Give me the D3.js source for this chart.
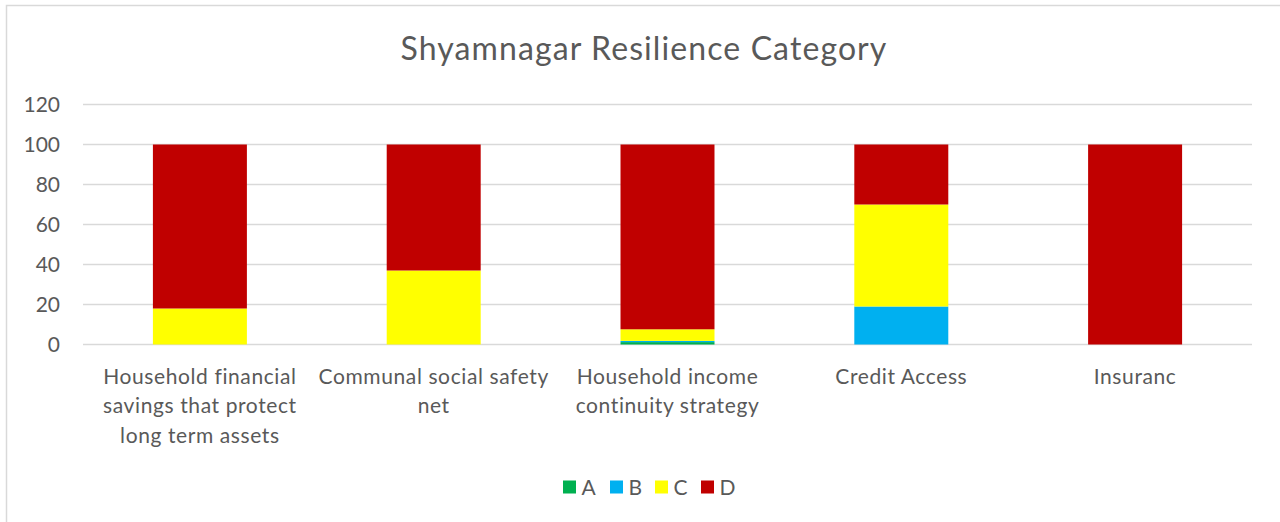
<!DOCTYPE html>
<html><head><meta charset="utf-8">
<script src="https://cdn.jsdelivr.net/npm/d3@7"></script>
<style>body{margin:0;background:#fff;} svg{display:block;}</style>
</head><body>
<svg id="chart" width="1280" height="522"></svg>
<script>
const categories = [
  ["Household financial", "savings that protect", "long term assets"],
  ["Communal social safety", "net"],
  ["Household income", "continuity strategy"],
  ["Credit Access"],
  ["Insuranc"]
];
const seriesNames = ["A", "B", "C", "D"];
const seriesColors = ["#00b050", "#00b0f0", "#ffff00", "#c00000"];
const valuesA = [0, 0, 1.2, 0, 0];
const valuesB = [0, 0, 0.6, 19, 0];
const valuesC = [18, 37, 5.8, 51, 0];
const valuesD = [82, 63, 92.4, 30, 100];
const yTicks = [0, 20, 40, 60, 80, 100, 120];
const title = "Shyamnagar Resilience Category";

(function () {
const font = "Lato, 'Open Sans', sans-serif";
const textColor = "#595959";
const svg = d3.select("#chart");

// chart border
svg.append("rect").attr("x", 6.5).attr("y", 5.5).attr("width", 1290).attr("height", 530)
  .attr("fill", "#fff").attr("stroke", "#d9d9d9").attr("stroke-width", 1.5);

const pLeft = 83, pRight = 1252, pTop = 104.5, pBottom = 344.5;
const keys = categories.map((c, i) => i);
const x = d3.scaleBand().domain(keys).range([pLeft, pRight]).paddingInner(0.598).paddingOuter(0.299);
const y = d3.scaleLinear().domain([0, 120]).range([pBottom, pTop]);

// gridlines
svg.append("g").selectAll("line").data(yTicks).join("line")
  .attr("x1", pLeft).attr("x2", pRight)
  .attr("y1", d => y(d)).attr("y2", d => y(d))
  .attr("stroke", "#d9d9d9").attr("stroke-width", 1.3);

// y labels
svg.append("g").selectAll("text").data(yTicks).join("text")
  .attr("x", 60).attr("y", d => y(d)).attr("dy", "0.36em")
  .attr("text-anchor", "end").attr("font-family", font).attr("font-size", 21)
  .attr("fill", textColor).text(d => d);

// stacked data
const rows = keys.map(i => ({ i, A: valuesA[i], B: valuesB[i], C: valuesC[i], D: valuesD[i] }));
const stack = d3.stack().keys(seriesNames)(rows);
const color = d3.scaleOrdinal().domain(seriesNames).range(seriesColors);

svg.append("g").selectAll("g").data(stack).join("g")
  .attr("fill", d => color(d.key))
  .selectAll("rect").data(d => d).join("rect")
  .attr("x", d => x(d.data.i))
  .attr("width", x.bandwidth())
  .attr("y", d => y(d[1]))
  .attr("height", d => y(d[0]) - y(d[1]));

// category labels
const catG = svg.append("g");
categories.forEach((lines, i) => {
  const cx = x(i) + x.bandwidth() / 2;
  const t = catG.append("text")
    .attr("x", cx).attr("y", 384)
    .attr("text-anchor", "middle").attr("font-family", font).attr("font-size", 21)
    .attr("letter-spacing", "0.6px")
    .attr("fill", textColor);
  lines.forEach((l, j) => t.append("tspan").attr("x", cx).attr("y", 384 + j * 29.3).text(l));
});

// title
svg.append("text").attr("x", 644).attr("y", 60).attr("text-anchor", "middle")
  .attr("font-family", font).attr("font-size", 32).attr("letter-spacing", "1.1px")
  .attr("fill", textColor).text(title);

// legend
const legendX = [563, 610, 655, 701];
const lg = svg.append("g");
seriesNames.forEach((s, i) => {
  lg.append("rect").attr("x", legendX[i]).attr("y", 480.5).attr("width", 13).attr("height", 13).attr("fill", seriesColors[i]);
  lg.append("text").attr("x", legendX[i] + 18.5).attr("y", 487).attr("dy", "0.36em")
    .attr("font-family", font).attr("font-size", 21).attr("fill", textColor).text(s);
});
})();
</script>
</body></html>
